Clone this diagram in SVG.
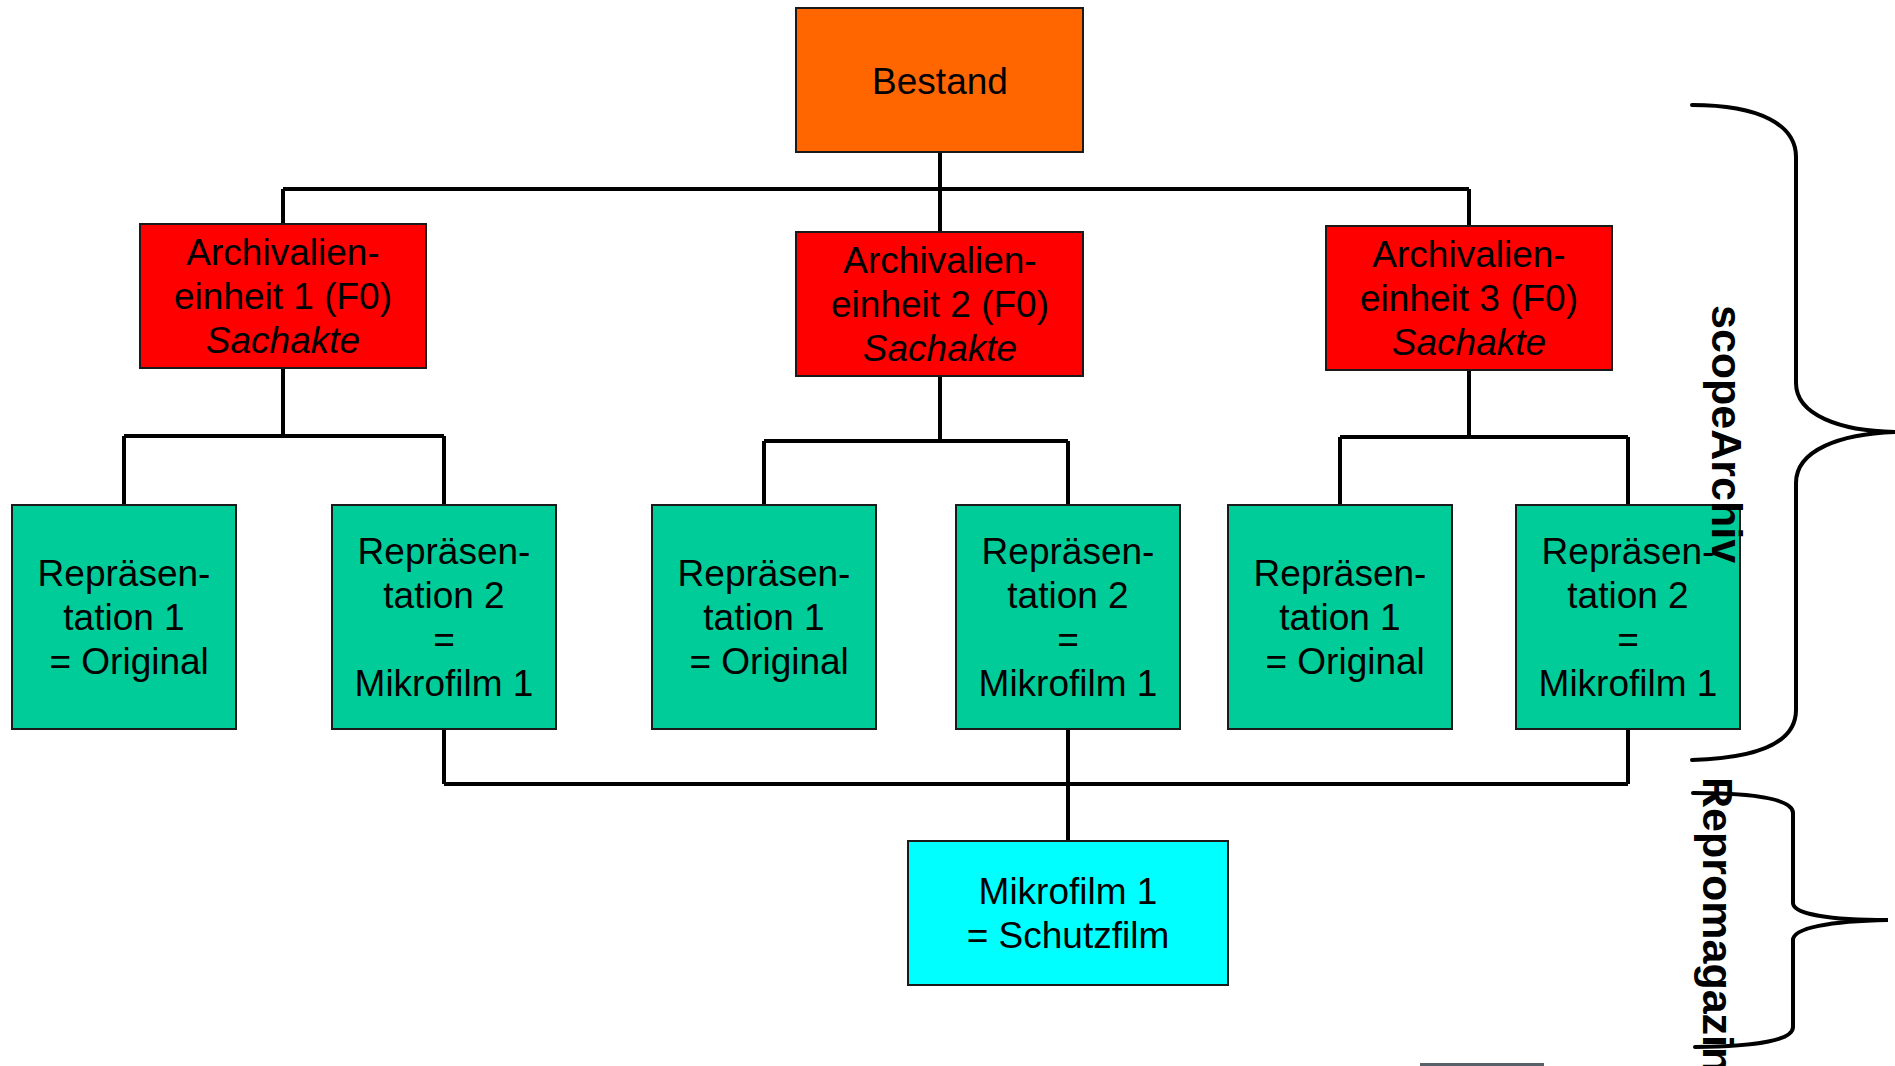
<svg xmlns="http://www.w3.org/2000/svg" width="1895" height="1066" viewBox="0 0 1895 1066">
<style>
.box{stroke:#1a1a1a;stroke-width:2}
.orange{fill:#FF6600}
.red{fill:#FF0000}
.green{fill:#00CC99}
.cyan{fill:#00FFFF}
text{font-family:"Liberation Sans",Arial,sans-serif;font-size:37px;fill:#000;text-anchor:middle;white-space:pre}
.it{font-style:italic}
.side{font-weight:bold;font-size:43px;text-anchor:start}
.conn{fill:none;stroke:#000;stroke-width:4;stroke-linecap:butt}
.brace{fill:none;stroke:#000;stroke-width:4;stroke-linecap:round}
</style>
<rect width="1895" height="1066" fill="#fff"/>
<g id="connectors">
<path class="conn" d="M940,152 V232 M283,189 H1469 M283,189 V224 M1469,189 V226"/>
<path class="conn" d="M283,368 V436 M124,436 H444 M124,436 V505 M444,436 V505"/>
<path class="conn" d="M940,376 V441 M764,441 H1068 M764,441 V505 M1068,441 V505"/>
<path class="conn" d="M1469,371 V437 M1340,437 H1628 M1340,437 V505 M1628,437 V505"/>
<path class="conn" d="M444,729 V784 M1628,729 V784 M444,784 H1628 M1068,729 V841"/>
</g>
<g id="bestand">
<rect class="box orange" x="796" y="8" width="287" height="144"/>
<text x="940" y="94">Bestand</text>
</g>
<g id="ae1">
<rect class="box red" x="140" y="224" width="286" height="144"/>
<text x="283" y="265">Archivalien-</text>
<text x="283" y="309">einheit 1 (F0)</text>
<text x="283" y="353" class="it">Sachakte</text>
</g>
<g id="ae2">
<rect class="box red" x="796" y="232" width="287" height="144"/>
<text x="940" y="273">Archivalien-</text>
<text x="940" y="317">einheit 2 (F0)</text>
<text x="940" y="361" class="it">Sachakte</text>
</g>
<g id="ae3">
<rect class="box red" x="1326" y="226" width="286" height="144"/>
<text x="1469" y="267">Archivalien-</text>
<text x="1469" y="311">einheit 3 (F0)</text>
<text x="1469" y="355" class="it">Sachakte</text>
</g>
<g id="rep1a">
<rect class="box green" x="12" y="505" width="224" height="224"/>
<text x="124" y="586">Repräsen-</text>
<text x="124" y="630">tation 1</text>
<text x="124" y="674"> = Original</text>
</g>
<g id="rep2a">
<rect class="box green" x="332" y="505" width="224" height="224"/>
<text x="444" y="564">Repräsen-</text>
<text x="444" y="608">tation 2</text>
<text x="444" y="652">=</text>
<text x="444" y="696">Mikrofilm 1</text>
</g>
<g id="rep1b">
<rect class="box green" x="652" y="505" width="224" height="224"/>
<text x="764" y="586">Repräsen-</text>
<text x="764" y="630">tation 1</text>
<text x="764" y="674"> = Original</text>
</g>
<g id="rep2b">
<rect class="box green" x="956" y="505" width="224" height="224"/>
<text x="1068" y="564">Repräsen-</text>
<text x="1068" y="608">tation 2</text>
<text x="1068" y="652">=</text>
<text x="1068" y="696">Mikrofilm 1</text>
</g>
<g id="rep1c">
<rect class="box green" x="1228" y="505" width="224" height="224"/>
<text x="1340" y="586">Repräsen-</text>
<text x="1340" y="630">tation 1</text>
<text x="1340" y="674"> = Original</text>
</g>
<g id="rep2c">
<rect class="box green" x="1516" y="505" width="224" height="224"/>
<text x="1628" y="564">Repräsen-</text>
<text x="1628" y="608">tation 2</text>
<text x="1628" y="652">=</text>
<text x="1628" y="696">Mikrofilm 1</text>
</g>
<g id="schutzfilm">
<rect class="box cyan" x="908" y="841" width="320" height="144"/>
<text x="1068" y="904">Mikrofilm 1</text>
<text x="1068" y="948">= Schutzfilm</text>
</g>
<g id="scopeArchiv">
<path class="brace" d="M1692,105 C1760,105 1796,125 1796,157 L1796,383 C1796,415 1840,431 1895,432 C1840,434 1796,450 1796,483 L1796,710 C1796,742 1760,758 1692,760"/>
<text class="side" transform="translate(1712,305) rotate(90)">scopeArchiv</text>
</g>
<g id="repromagazin">
<path class="brace" d="M1693,793 C1760,793 1793,800 1793,813 L1793,903 C1793,914 1830,920 1888,920 C1830,921 1793,928 1793,940 L1793,1027 C1793,1040 1760,1046 1695,1047"/>
<text class="side" transform="translate(1703,777) rotate(90)">Repromagazin</text>
</g>
<rect x="1420" y="1063" width="124" height="3" fill="#56616a"/>
</svg>
